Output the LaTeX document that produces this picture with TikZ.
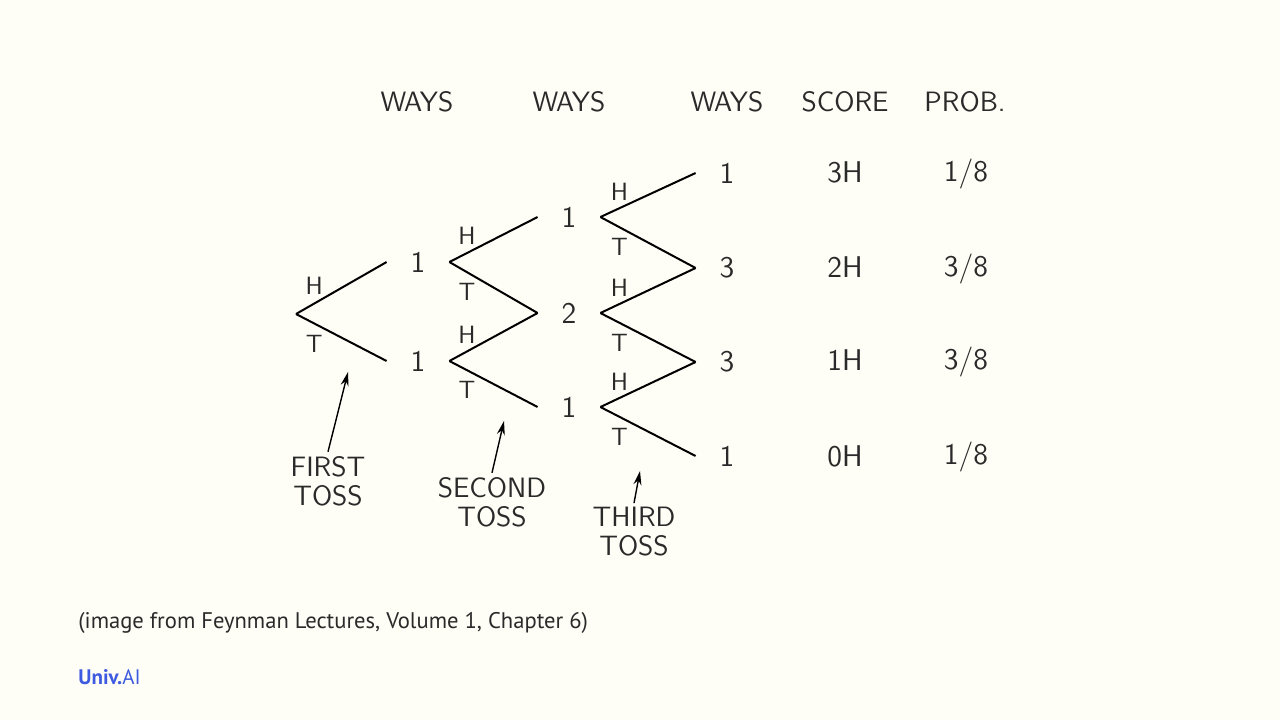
\documentclass[tikz,border=0pt]{standalone}
\usepackage{fontspec}
\usepackage{tikz}
\usetikzlibrary{arrows.meta}
\newfontfamily\capfont{PT Sans}
\definecolor{paper}{HTML}{FEFEF6}
\definecolor{univblue}{HTML}{3D5AE0}
\definecolor{inkgray}{HTML}{2A2A2A}

\tikzset{
  branch/.style={line width=1pt},
  num/.style={minimum width=31pt, inner sep=0pt, text=inkgray,
    font=\sffamily\fontsize{15}{15}\selectfont},
  side/.style={inner sep=0pt, text=inkgray,
    font=\sffamily\fontsize{12.5}{13}\selectfont},
  head/.style={anchor=base, inner sep=0pt, text=inkgray,
    font=\sffamily\fontsize{14}{15}\selectfont},
  tally/.style={head, font=\sffamily\fontsize{15}{16}\selectfont},
  tosslabel/.style={align=center, inner sep=2pt, text=inkgray,
    font=\sffamily\fontsize{14}{14.5}\selectfont},
  pointer/.style={-{Stealth[length=7pt,width=4pt]}, line width=0.7pt},
}

\begin{document}
\begin{tikzpicture}[x=0.5pt, y=-0.5pt]

    % Background
    \path[fill=paper] (0,0) rectangle (1280,720);

    % Column heads
    \node[head] (ways1) at (417,111) {WAYS};
    \node[head] (ways2) at (569,111) {WAYS};
    \node[head] (ways3) at (727,111) {WAYS};
    \node[head] (score) at (845,111) {SCORE};
    \node[head] (prob) at (965,111) {PROB.};

    % Ways after each toss
    \coordinate (root) at (296,314);
    \node[num] (n11) at (418,262) {1};
    \node[num] (n12) at (418,361) {1};
    \node[num] (n21) at (569,217) {1};
    \node[num] (n22) at (569,313) {2};
    \node[num] (n23) at (569,407) {1};
    \node[num] (n31) at (727,173) {1};
    \node[num] (n32) at (727,268) {3};
    \node[num] (n33) at (727,362) {3};
    \node[num] (n34) at (727,456) {1};

    % First toss
    \draw[branch] (root) -- node[side,pos=.2,yshift=9pt] {H} (n11.west);
    \draw[branch] (root) -- node[side,pos=.2,yshift=-10pt] {T} (n12.west);

    % Second toss
    \draw[branch] (n11.east) -- node[side,pos=.2,yshift=8.5pt] {H} (n21.west);
    \draw[branch] (n11.east) -- node[side,pos=.2,yshift=-10pt] {T} (n22.west);
    \draw[branch] (n12.east) -- node[side,pos=.2,yshift=8.5pt] {H} (n22.west);
    \draw[branch] (n12.east) -- node[side,pos=.2,yshift=-10pt] {T} (n23.west);

    % Third toss
    \draw[branch] (n21.east) -- node[side,pos=.2,yshift=8pt] {H} (n31.west);
    \draw[branch] (n21.east) -- node[side,pos=.2,yshift=-10pt] {T} (n32.west);
    \draw[branch] (n22.east) -- node[side,pos=.2,yshift=8pt] {H} (n32.west);
    \draw[branch] (n22.east) -- node[side,pos=.2,yshift=-10pt] {T} (n33.west);
    \draw[branch] (n23.east) -- node[side,pos=.2,yshift=8pt] {H} (n33.west);
    \draw[branch] (n23.east) -- node[side,pos=.2,yshift=-10pt] {T} (n34.west);

    % Score and probability
    \node[tally] (s3) at (845,182) {3H};
    \node[tally] (s2) at (845,277) {2H};
    \node[tally] (s1) at (845,370) {1H};
    \node[tally] (s0) at (845,466) {0H};
    \node[tally] (p3) at (966,181) {1/8};
    \node[tally] (p2) at (966,276) {3/8};
    \node[tally] (p1) at (966,369) {3/8};
    \node[tally] (p0) at (966,464) {1/8};

    % Toss labels
    \node[tosslabel] (first) at (328,481) {FIRST\\TOSS};
    \node[tosslabel] (second) at (492,502) {SECOND\\TOSS};
    \node[tosslabel] (third) at (634,532) {THIRD\\TOSS};
    \coordinate (tip1) at (348,372);
    \coordinate (tip2) at (504,421);
    \coordinate (tip3) at (640,471);
    \draw[pointer] (first.north) -- (tip1);
    \draw[pointer] (second.north) -- (tip2);
    \draw[pointer] (third.north) -- (tip3);

    % Source and logo
    \node[anchor=base west, inner sep=0pt, text=inkgray,
      font=\capfont\fontsize{11.3}{13}\selectfont] (source) at (78,628)
      {(image from Feynman Lectures, Volume 1, Chapter 6)};
    \node[anchor=base west, inner sep=0pt, text=univblue,
      font=\capfont\fontsize{10.5}{12}\selectfont] (logo) at (78,684)
      {\textbf{Univ.}AI};

\end{tikzpicture}
\end{document}
